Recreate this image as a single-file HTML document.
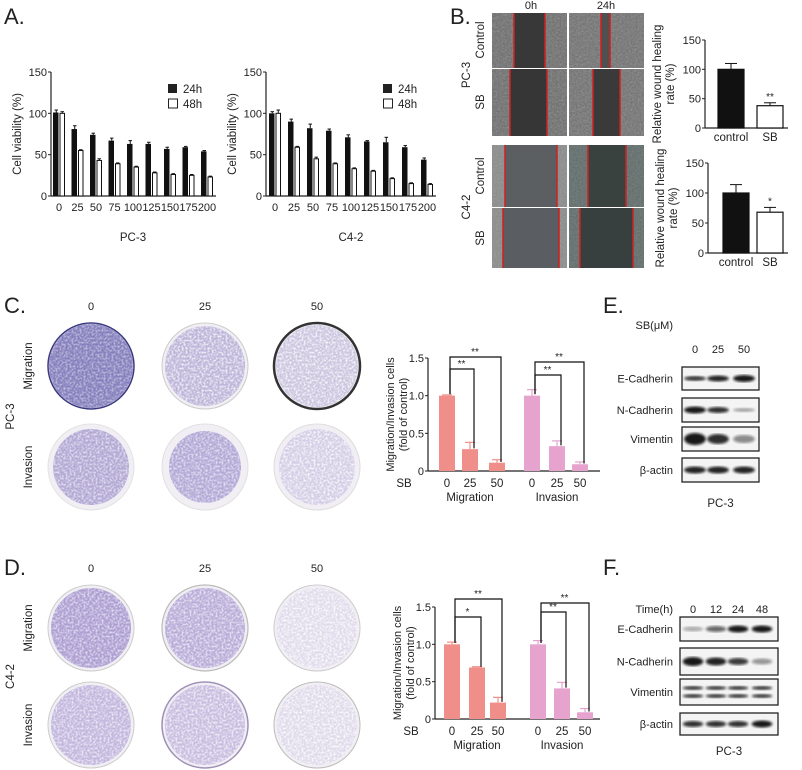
<!DOCTYPE html>
<html><head><meta charset="utf-8"><style>
html,body{margin:0;padding:0;background:#fff}
svg{display:block;font-family:"Liberation Sans",Arial,sans-serif}
</style></head><body>
<svg id="fig" width="802" height="770" viewBox="0 0 802 770" xmlns="http://www.w3.org/2000/svg">
<defs>
<filter id="noise" x="0" y="0" width="100%" height="100%">
<feTurbulence type="fractalNoise" baseFrequency="0.55" numOctaves="2" seed="3"/>
<feColorMatrix type="saturate" values="0"/>
<feComponentTransfer><feFuncA type="linear" slope="0.55"/></feComponentTransfer>
<feComposite in2="SourceGraphic" operator="in"/>
</filter>
<filter id="dots" x="0" y="0" width="100%" height="100%">
<feTurbulence type="fractalNoise" baseFrequency="0.5" numOctaves="2" seed="7"/>
<feColorMatrix type="matrix" values="0 0 0 0 1  0 0 0 0 1  0 0 0 0 1  0 0 0 -3 1.8"/>
<feComposite in2="SourceGraphic" operator="in"/>
</filter>
<filter id="blur1"><feGaussianBlur stdDeviation="1.3"/></filter>
</defs>
<g id="root"></g>
</svg>
<script>
// ---------- Panel A data ----------
const doseCats = ["0","25","50","75","100","125","150","175","200"];
const pc3v24 = [101,81,74,67,63,63,57,59,54];
const pc3e24 = [3,4,2,3,4,2,2,1,1];
const pc3v48 = [100,55,43,39,35,28,26,25,23];
const pc3e48 = [2,1,2,1,1,1,1,1,1];
const c42v24 = [100,90,82,79,71,66,65,59,44];
const c42e24 = [2,3,5,2,3,1,6,2,2];
const c42v48 = [100,59,45,39,33,30,21,15,14];
const c42e48 = [4,1,2,1,1,1,1,1,1];
const viaTicks = [0,50,100,150];
// ---------- Panel B data ----------
const woundCats = ["control","SB"];
const woundPC3 = [100,38];
const woundPC3Err = [10,5];
const woundPC3Sig = ["","**"];
const woundC42 = [100,68];
const woundC42Err = [14,8];
const woundC42Sig = ["","*"];
const woundTicks = [0,50,100,150];
// ---------- Panels C/D data ----------
const sbDoses = ["0","25","50"];
const migPC3 = [1.0,0.29,0.11];
const migPC3Err = [0.01,0.09,0.04];
const invPC3 = [1.0,0.33,0.09];
const invPC3Err = [0.08,0.07,0.03];
const migC42 = [1.0,0.69,0.22];
const migC42Err = [0.03,0.01,0.07];
const invC42 = [1.0,0.41,0.09];
const invC42Err = [0.05,0.08,0.05];
const foldTicks = ["0","0.5","1.0","1.5"];
const foldTickVals = [0,0.5,1.0,1.5];

const NS="http://www.w3.org/2000/svg";
const root=document.getElementById('root');
function mk(tag,attrs,parent){const e=document.createElementNS(NS,tag);for(const k in attrs)e.setAttribute(k,attrs[k]);(parent||root).appendChild(e);return e;}
function txt(s,x,y,size,anchor,parent,rot){const t=mk('text',{x:x,y:y,'font-size':size,'text-anchor':anchor||'middle',fill:'#222'},parent);if(rot)t.setAttribute('transform','rotate(-90 '+x+' '+y+')');t.textContent=s;return t;}

[["A.",4,24],["B.",450,24],["C.",4,313],["D.",4,575],["E.",603,313],["F.",603,575]].forEach(p=>{
 const t=txt(p[0],p[1],p[2],22,'start');
 
 
});

// ---------- Panel A ----------
function viability(ax,firstCx,step,v24,e24,v48,e48,title,legX){
 const g=mk('g',{});
 
 
 const y0=196,yTop=72,vmax=150;
 const y=v=>y0-v*(y0-yTop)/vmax;
 mk('line',{x1:ax,y1:yTop,x2:ax,y2:y0,stroke:'#222','stroke-width':1.2},g);
 mk('line',{x1:ax,y1:y0,x2:firstCx+8*step+9,y2:y0,stroke:'#222','stroke-width':1.2},g);
 viaTicks.forEach(t=>{mk('line',{x1:ax-3,y1:y(t),x2:ax,y2:y(t),stroke:'#222'},g);
  const l=txt(String(t),ax-4,y(t)+4,11,'end',g);
  
  });
 const yl=txt('Cell viability (%)',ax-30,y(75),11.5,'middle',g,true);
 
 
 doseCats.forEach((c,i)=>{
  const cx=firstCx+i*step, w=5.5;
  mk('line',{x1:cx-w+w/2,y1:y(v24[i]),x2:cx-w+w/2,y2:y(v24[i]+e24[i]),stroke:'#111','stroke-width':1},g);
  mk('line',{x1:cx-w+1,y1:y(v24[i]+e24[i]),x2:cx-1,y2:y(v24[i]+e24[i]),stroke:'#111','stroke-width':1},g);
  const b=mk('rect',{x:cx-w-0.5,y:y(v24[i]),width:w,height:y0-y(v24[i]),fill:'#111'},g);
  
  
  mk('line',{x1:cx+0.5+w/2,y1:y(v48[i]),x2:cx+0.5+w/2,y2:y(v48[i]+e48[i]),stroke:'#111','stroke-width':1},g);
  mk('line',{x1:cx+1.5,y1:y(v48[i]+e48[i]),x2:cx+w-0.5,y2:y(v48[i]+e48[i]),stroke:'#111','stroke-width':1},g);
  const b2=mk('rect',{x:cx+1,y:y(v48[i]),width:w-1,height:y0-y(v48[i]),fill:'#fff',stroke:'#111','stroke-width':1},g);
  
  
  const l=txt(c,cx,211,11,'middle',g);
  
  
 });
 const tt=txt(title,firstCx+4*step,241,11.5,'middle',g);
 
 
 const lg=mk('g',{},g);
 
 
 mk('rect',{x:legX,y:84,width:9,height:9,fill:'#222'},lg);
 txt('24h',legX+15,93,11.5,'start',lg);
 mk('rect',{x:legX+0.5,y:99,width:9,height:9,fill:'#fff',stroke:'#222'},lg);
 txt('48h',legX+15,108,11.5,'start',lg);
}
viability(51,59,18.5,pc3v24,pc3e24,pc3v48,pc3e48,'PC-3',168);
viability(266,275,19,c42v24,c42e24,c42v48,c42e48,'C4-2',383);

// ---------- Panel B wound images ----------
const gw=mk('g',{});


function wound(x,yy,w,h,bg,gap,l1,l2,noisy){
 mk('rect',{x:x,y:yy,width:w,height:h,fill:bg},gw);
 mk('rect',{x:x,y:yy,width:w,height:h,fill:'#fff',filter:'url(#noise)',opacity:noisy},gw);
 mk('rect',{x:l1,y:yy,width:l2-l1,height:h,fill:gap},gw);
 mk('line',{x1:l1,y1:yy,x2:l1,y2:yy+h,stroke:'#d02020','stroke-width':1.5},gw);
 mk('line',{x1:l2,y1:yy,x2:l2,y2:yy+h,stroke:'#d02020','stroke-width':1.5},gw);
}
wound(492,13,75,55,'#6a6a6a','#383838',514,545,0.8);
wound(569,13,75,55,'#6e6e6e','#505050',601,610,0.8);
wound(492,69,75,67,'#6a6a6a','#363636',510,547,0.8);
wound(569,69,75,67,'#6e6e6e','#3a3a3a',593,620,0.8);
wound(492,145,75,62,'#8a8c8c','#5c5f62',505,557,0.5);
wound(569,145,75,62,'#5f6c6a','#39423f',588,626,0.5);
wound(492,208,75,60,'#8a8c8c','#5a5d62',503,559,0.5);
wound(569,208,75,60,'#5f6c6a','#37403e',580,633,0.5);
[["0h",531,9],["24h",606,9]].forEach(p=>txt(p[0],p[1],p[2],11,'middle',gw));
[["Control",484,40],["SB",484,102],["Control",484,176],["SB",484,238]].forEach(p=>txt(p[0],p[1],p[2],11.5,'middle',gw,true));
txt('PC-3',470,75,11.5,'middle',gw,true);
txt('C4-2',470,207,11.5,'middle',gw,true);

// ---------- Panel B wound charts ----------
function woundChart(ax,y0,yTop,bx,vals,errs,sig,name){
 const g=mk('g',{});
 
 
 const y=v=>y0-v*(y0-yTop)/150;
 mk('line',{x1:ax,y1:yTop,x2:ax,y2:y0,stroke:'#222','stroke-width':1.2},g);
 mk('line',{x1:ax,y1:y0,x2:788,y2:y0,stroke:'#222','stroke-width':1.2},g);
 woundTicks.forEach(t=>{mk('line',{x1:ax-3,y1:y(t),x2:ax,y2:y(t),stroke:'#222'},g);txt(String(t),ax-4,y(t)+4,11,'end',g);});
 const t1=txt('Relative wound healing',ax-44,(y0+yTop)/2,11.5,'middle',g,true);
 
 
 txt('rate (%)',ax-31,(y0+yTop)/2,11.5,'middle',g,true);
 woundCats.forEach((c,i)=>{
  const x=bx[i],w=26,cx=x+w/2;
  mk('line',{x1:cx,y1:y(vals[i]),x2:cx,y2:y(vals[i]+errs[i]),stroke:'#111'},g);
  mk('line',{x1:cx-6,y1:y(vals[i]+errs[i]),x2:cx+6,y2:y(vals[i]+errs[i]),stroke:'#111'},g);
  const b=mk('rect',{x:x,y:y(vals[i]),width:w,height:y0-y(vals[i]),fill:i==0?'#111':'#fff',stroke:'#111','stroke-width':1.2},g);
  
  
  if(sig[i])txt(sig[i],cx,y(vals[i]+errs[i])-3,10,'middle',g);
  txt(c,cx,y0+13,11.5,'middle',g);
 });
}
woundChart(705,128,40,[718,757],woundPC3,woundPC3Err,woundPC3Sig,'wound-chart-pc3');
woundChart(708,253,163,[723,757],woundC42,woundC42Err,woundC42Sig,'wound-chart-c42');

// ---------- Panels C/D transwell circles ----------
function wells(cy1,cy2,fills,cell,lblY,name){
 const g=mk('g',{});
 
 
 const cxs=[91,205,317];
 sbDoses.forEach((d,i)=>txt(d,cxs[i],lblY,11,'middle',g));
 [cy1,cy2].forEach((cy,r)=>{cxs.forEach((cx,i)=>{
  const f=fills[r*3+i];
  mk('circle',{cx:cx,cy:cy,r:43,fill:'#f1eff4',stroke:f[2],'stroke-width':f[3]},g);
  mk('circle',{cx:cx,cy:cy,r:f[1],fill:f[0]},g);
  mk('circle',{cx:cx,cy:cy,r:f[1],fill:'#fff',filter:'url(#dots)',opacity:f[4]},g);
 });});
 txt('Migration',32,cy1,11.5,'middle',g,true);
 txt('Invasion',32,cy2,11.5,'middle',g,true);
 txt(cell,14,(cy1+cy2)/2,11.5,'middle',g,true);
}
wells(366,467,[['#8580bd',42,'#3b3a80',1.5,0.45],['#bdb5d9',40,'#ccc',1,0.75],['#cbc5df',41,'#333',2.5,0.8],
 ['#b2a8d4',38,'#e2e2e2',1,0.6],['#b3a9d6',36,'#e0e0e0',1,0.6],['#d3cde6',38,'#ddd',1,0.8]],'PC-3',310,'transwell-images-pc3');
wells(628,725,[['#ad9ed2',40,'#ccc',1,0.6],['#b9acd8',40,'#bbb',1.2,0.65],['#e0dbeb',40,'#ccc',1,0.85],
 ['#c2b6dd',40,'#ccc',1,0.65],['#c8bde0',40,'#a090b8',1.5,0.7],['#dfdaea',40,'#bbb',1,0.85]],'C4-2',572,'transwell-images-c42');

// ---------- Panels C/D bar charts ----------
function foldChart(ax,y0,y15,xEnd,cx,mig,migE,inv,invE,brk,name){
 const g=mk('g',{});
 
 
 const y=v=>y0-v*(y0-y15)/1.5;
 mk('line',{x1:ax,y1:y15,x2:ax,y2:y0,stroke:'#222','stroke-width':1.2},g);
 mk('line',{x1:ax,y1:y0,x2:xEnd,y2:y0,stroke:'#222','stroke-width':1.2},g);
 foldTickVals.forEach((t,i)=>{mk('line',{x1:ax-3,y1:y(t),x2:ax,y2:y(t),stroke:'#222'},g);txt(foldTicks[i],ax-4,y(t)+4,11,'end',g);});
 const t1=txt('Migration/Invasion cells',ax-34,y(0.75),11,'middle',g,true);
 
 
 txt('(fold of control)',ax-21,y(0.75),11,'middle',g,true);
 txt('SB',ax-24,y0+16,11.5,'middle',g);
 const groups=[[mig,migE,'#f08f8a','migration'],[inv,invE,'#e6a3ce','invasion']];
 groups.forEach((gr,k)=>{
  sbDoses.forEach((d,i)=>{
   const c=cx[k*3+i],w=16;
   mk('line',{x1:c,y1:y(gr[0][i]),x2:c,y2:y(gr[0][i]+gr[1][i]),stroke:gr[2],'stroke-width':1.2},g);
   mk('line',{x1:c-5,y1:y(gr[0][i]+gr[1][i]),x2:c+5,y2:y(gr[0][i]+gr[1][i]),stroke:gr[2],'stroke-width':1.2},g);
   const b=mk('rect',{x:c-w/2,y:y(gr[0][i]),width:w,height:y0-y(gr[0][i]),fill:gr[2]},g);
   
   
   txt(d,c,y0+16,11.5,'middle',g);
  });
  txt(k==0?'Migration':'Invasion',cx[k*3+1],y0+30,11.5,'middle',g);
 });
 brk.forEach(b=>{
  const a=cx[b[0]],c=cx[b[1]],top=b[2];
  mk('polyline',{points:(a+3)+','+(y(1.02))+' '+(a+3)+','+top+' '+(c+4)+','+top+' '+(c+4)+','+y(b[3]),fill:'none',stroke:'#111','stroke-width':1.2},g);
  txt(b[4],(a+c)/2+3,top-2,10,'middle',g);
 });
}
foldChart(428,471,358,600,[447,470,497,532,557,580],migPC3,migPC3Err,invPC3,invPC3Err,
 [[0,1,369,0.3,'**'],[0,2,357,0.12,'**'],[3,4,375,0.34,'**'],[3,5,362,0.1,'**']],'fold-chart-pc3');
foldChart(435,719,607,600,[452,477,498,538,562,585],migC42,migC42Err,invC42,invC42Err,
 [[0,1,617,0.7,'*'],[0,2,599,0.23,'**'],[3,4,612,0.42,'**'],[3,5,603,0.1,'**']],'fold-chart-c42');

// ---------- Panels E/F blots ----------
function blot(x,w,rows,lanes,bands,header,hLabels,name,pcY){
 const g=mk('g',{});
 
 
 txt(header[0],673,header[1],11,'end',g);
 hLabels.forEach((l,i)=>txt(l,lanes[i],header[2],11,'middle',g));
 rows.forEach((r,k)=>{
  mk('rect',{x:x,y:r[1],width:w,height:r[2],fill:'#f4f4f4',stroke:'#222','stroke-width':1.3},g);
  bands[k].forEach((b,i)=>{
   mk('ellipse',{cx:lanes[i],cy:r[1]+r[2]/2+(b[2]||0),rx:w/lanes.length/2-2,ry:b[1],fill:'#111',opacity:b[0],filter:'url(#blur1)'},g);
   if(b[3])mk('ellipse',{cx:lanes[i],cy:r[1]+r[2]/2+b[3],rx:w/lanes.length/2-2,ry:b[1],fill:'#111',opacity:b[0],filter:'url(#blur1)'},g);
  });
  txt(r[0],673,r[1]+r[2]/2+4,11,'end',g);
 });
 txt('PC-3',x+w/2,pcY,11.5,'middle',g);
}
blot(682,77,[['E-Cadherin',367,23],['N-Cadherin',398,24],['Vimentin',427,24],['β-actin',458,24]],
 [695,718,744],
 [[[0.8,2.5],[0.9,3],[0.95,3.5]],[[0.95,3.5],[0.85,3],[0.35,2]],[[0.95,6],[0.85,5],[0.45,4]],[[0.9,3.5],[0.9,3.5],[0.9,3.5]]],
 ['SB(μM)',329,353],['0','25','50'],'western-blot-e',507);
blot(680,98,[['E-Cadherin',617,24],['N-Cadherin',648,27],['Vimentin',679,26],['β-actin',713,22]],
 [693,716,738,762],
 [[[0.3,2.5],[0.6,3],[0.95,3.5],[0.95,3.5]],[[0.95,4.5],[0.9,4],[0.8,3.5],[0.4,3]],[[0.8,2,-4,4],[0.8,2,-4,4],[0.8,2,-4,4],[0.8,2,-4,4]],[[0.85,3],[0.85,3],[0.85,3],[0.95,3.5]]],
 ['Time(h)',613,613],['0','12','24','48'],'western-blot-f',755);
</script>
</body></html>
